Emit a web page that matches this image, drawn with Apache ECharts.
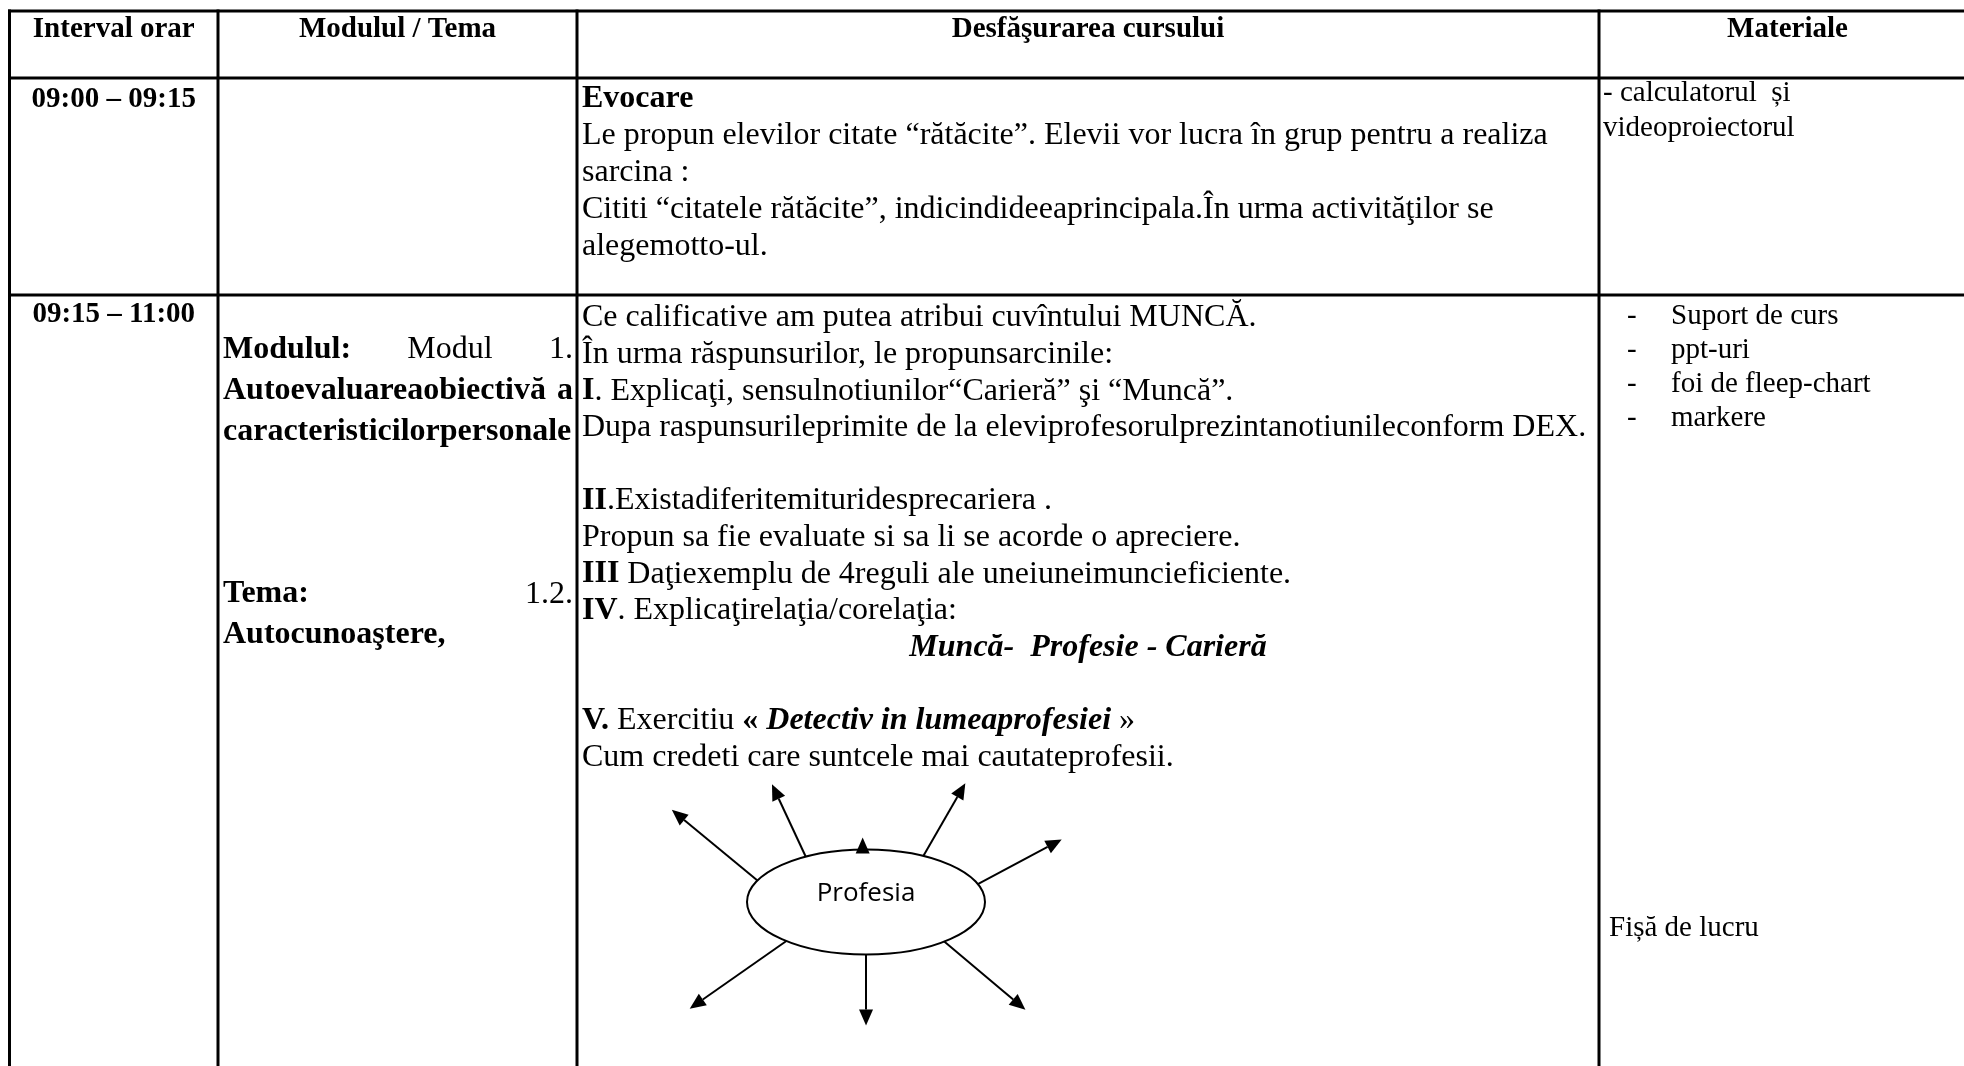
<!DOCTYPE html>
<html><head><meta charset="utf-8">
<script src="https://cdn.jsdelivr.net/npm/echarts@6/dist/echarts.min.js"></script>
<style>html,body{margin:0;padding:0;background:#fff;overflow:hidden}#c{width:1964px;height:1066px}</style>
</head><body><div id="c"></div>
<script>
// ---------- content ----------
const headers = ['Interval orar', 'Modulul / Tema', 'Desfăşurarea cursului', 'Materiale'];
const timeSlots = ['09:00 – 09:15', '09:15 – 11:00'];
const evocareLines = [
  [['b', 'Evocare']],
  [['n', 'Le propun elevilor citate “rătăcite”. Elevii vor lucra în grup pentru a realiza']],
  [['n', 'sarcina :']],
  [['n', 'Cititi “citatele rătăcite”, indicindideeaprincipala.În urma activităţilor se']],
  [['n', 'alegemotto-ul.']]
];
const activityLines = [
  [['n', 'Ce calificative am putea atribui cuvîntului MUNCĂ.']],
  [['n', 'În urma răspunsurilor, le propunsarcinile:']],
  [['b', 'I'], ['n', '. Explicaţi, sensulnotiunilor“Carieră” şi “Muncă”.']],
  [['n', 'Dupa raspunsurileprimite de la eleviprofesorulprezintanotiunileconform DEX.']],
  [],
  [['b', 'II'], ['n', '.Existadiferitemituridesprecariera .']],
  [['n', 'Propun sa fie evaluate si sa li se acorde o apreciere.']],
  [['b', 'III'], ['n', ' Daţiexemplu de 4reguli ale uneiuneimuncieficiente.']],
  [['b', 'IV'], ['n', '. Explicaţirelaţia/corelaţia:']],
  [['bi', 'Muncă-  Profesie - Carieră']],
  [],
  [['b', 'V.'], ['n', ' Exercitiu '], ['b', '« '], ['bi', 'Detectiv in lumeaprofesiei'], ['n', ' »']],
  [['n', 'Cum credeti care suntcele mai cautateprofesii.']]
];
const centeredActivityLine = 9;
const moduleLines = [
  [['b', 'Modulul:'], ['n', 'Modul'], ['n', '1.']],
  [['b', 'Autoevaluareaobiectivă'], ['b', 'a']],
  [['b', 'caracteristicilorpersonale']],
  [], [], [],
  [['b', 'Tema:'], ['n', '1.2.']],
  [['b', 'Autocunoaştere,']]
];
const materials1 = ['- calculatorul  și', 'videoproiectorul'];
const materials2 = ['Suport de curs', 'ppt-uri', 'foi de fleep-chart', 'markere'];
const worksheetLabel = 'Fișă de lucru';
const diagramLabel = 'Profesia';
// arrows around the ellipse: start point (ellipse parameter, deg), direction (deg), length
const arrowStartParam = [-155.8, -120.4, -91.6, -61.2, -20, 48.9, 90, 132];
const arrowDirection = [-140.5, -115, -90, -60, -28, 40, 90, 145];
const arrowLength = [111, 80, 12, 84, 95, 106, 71, 118];

// ---------- layout ----------
const FONT = '"Liberation Serif", "Times New Roman", serif';
const COLS = [9.5, 218, 577, 1599, 1976];
const ROWS = [11, 78, 295];
const BOTTOM = 1120;
const LW = 3;

const ctx = document.createElement('canvas').getContext('2d');
function fontStr(st, size) {
  return (st.indexOf('i') >= 0 ? 'italic ' : '') + (st.indexOf('b') >= 0 ? 'bold ' : '') + size + 'px ' + FONT;
}
function measure(t, st, size) { ctx.font = fontStr(st, size); return ctx.measureText(t).width; }
function txt(x, y, t, st, size, align, family) {
  const font = family ? (size + 'px ' + family) : fontStr(st, size);
  return { type: 'text', x: x, y: y, silent: true, z: 10,
    style: { text: t, fill: '#000', font: font, align: align || 'left', textAlign: align || 'left',
      verticalAlign: 'middle', textVerticalAlign: 'middle' } };
}
const els = [];
function segLine(segs, x, y, size, align, width) {
  const ws = segs.map(s => measure(s[1], s[0], size));
  const total = ws.reduce((a, b) => a + b, 0);
  let cx = x;
  if (align === 'center') cx = x - total / 2;
  let gap = 0;
  if (align === 'justify' && segs.length > 1) gap = (width - total) / (segs.length - 1);
  segs.forEach((s, i) => { els.push(txt(cx, y, s[1], s[0], size, 'left')); cx += ws[i] + gap; });
}
function line(x1, y1, x2, y2, w) {
  els.push({ type: 'line', silent: true, z: 5, shape: { x1, y1, x2, y2 }, style: { stroke: '#000', lineWidth: w || LW } });
}

// grid
ROWS.forEach(y => line(COLS[0] - LW / 2, y, 1964, y));
COLS.forEach(x => line(x, ROWS[0] - LW / 2, x, BOTTOM));

// headers
headers.forEach((h, i) => els.push(txt((COLS[i] + COLS[i + 1]) / 2, 30, h, 'b', 29, 'center')));
// time slots
els.push(txt((COLS[0] + COLS[1]) / 2, 100, timeSlots[0], 'b', 29, 'center'));
els.push(txt((COLS[0] + COLS[1]) / 2, 315, timeSlots[1], 'b', 29, 'center'));
// row 1 activity
evocareLines.forEach((l, i) => segLine(l, COLS[2] + 5, 99 + i * 37, 32, 'left'));
// row 2 activity
activityLines.forEach((l, i) => {
  if (!l.length) return;
  if (i === centeredActivityLine) segLine(l, (COLS[2] + COLS[3]) / 2, 318 + i * 36.6, 32, 'center');
  else segLine(l, COLS[2] + 5, 318 + i * 36.6, 32, 'left');
});
// module column
moduleLines.forEach((l, i) => {
  if (!l.length) return;
  segLine(l, COLS[1] + 5, 350 + i * 40.7, 32, l.length > 1 ? 'justify' : 'left', COLS[2] - COLS[1] - 9);
});
// materials
materials1.forEach((m, i) => els.push(txt(COLS[3] + 4, 93 + i * 35, m, 'n', 29, 'left')));
materials2.forEach((m, i) => {
  els.push(txt(COLS[3] + 28, 316 + i * 34, '-', 'n', 29, 'left'));
  els.push(txt(COLS[3] + 72, 316 + i * 34, m, 'n', 29, 'left'));
});
els.push(txt(COLS[3] + 10, 928, worksheetLabel, 'n', 29, 'left'));

// diagram
const E = { cx: 866, cy: 902, rx: 119, ry: 52.5 };
els.push({ type: 'ellipse', silent: true, z: 6, shape: E, style: { fill: '#fff', stroke: '#000', lineWidth: 2 } });
els.push(txt(E.cx, E.cy - 8, diagramLabel, 'n', 26, 'center', '"Open Sans", "Noto Sans", sans-serif'));
const HEAD = 16, HALF = 7;
arrowStartParam.forEach((p, i) => {
  const t = p * Math.PI / 180, d = arrowDirection[i] * Math.PI / 180, L = arrowLength[i];
  const sx = E.cx + E.rx * Math.cos(t), sy = E.cy + E.ry * Math.sin(t);
  const ux = Math.cos(d), uy = Math.sin(d);
  const tx = sx + ux * L, ty = sy + uy * L;
  const bx = tx - ux * HEAD, by = ty - uy * HEAD;
  if (L > HEAD) els.push({ type: 'line', silent: true, z: 7, shape: { x1: sx, y1: sy, x2: bx, y2: by }, style: { stroke: '#000', lineWidth: 2 } });
  els.push({ type: 'polygon', silent: true, z: 7, shape: { points: [[tx, ty], [bx - uy * HALF, by + ux * HALF], [bx + uy * HALF, by - ux * HALF]] }, style: { fill: '#000' } });
});

const chart = echarts.init(document.getElementById('c'), null, { renderer: 'canvas', width: 1964, height: 1066 });
chart.setOption({ backgroundColor: '#fff', animation: false, graphic: { elements: els } });
</script></body></html>
